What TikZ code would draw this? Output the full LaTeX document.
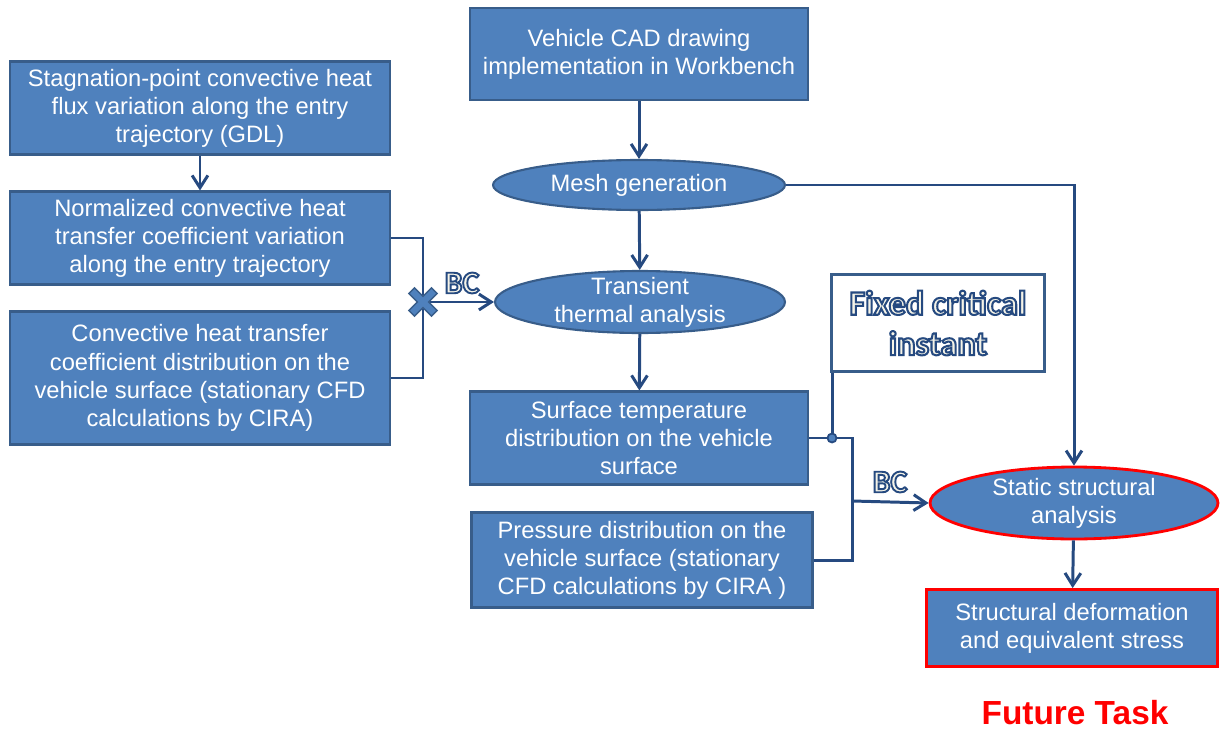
\documentclass[tikz,border=0pt]{standalone}
\usepackage{fontspec}
\setmainfont{Liberation Sans}
\newfontfamily\bcfont{Carlito}[BoldFeatures={FakeBold=6}]
\usetikzlibrary{shapes.geometric,arrows.meta}

\definecolor{boxfill}{RGB}{79,129,189}
\definecolor{boxedge}{RGB}{56,93,138}
\definecolor{linec}{RGB}{38,74,128}

% cream letters with a dark blue outline
\newcommand{\outl}[1]{\special{pdf:bcolor [0.965 0.957 0.91] [0.149 0.29 0.502]}#1\special{pdf:ecolor}}

\begin{document}
\begin{tikzpicture}[x=0.02cm,y=-0.02cm,
  body/.style={font=\fontsize{13.5}{16}\selectfont,text=white,align=center},
  rbox/.style={body,draw=boxedge,fill=boxfill,line width=1.2pt,inner sep=0pt},
  oval/.style={ellipse,draw=boxedge,fill=boxfill,line width=1.2pt,inner sep=0pt},
  future/.style={draw=red,line width=1.6pt},
  link/.style={draw=linec,line width=1.7pt},
  arr/.style={link,-{Straight Barb[length=7pt,width=9pt,line width=1.7pt]}},
  tag/.style={inner sep=0pt,font=\bcfont\bfseries\fontsize{18}{20}\selectfont}]
\useasboundingbox (0,0) rectangle (1220,730);

% left column
\node[rbox,minimum width=7.6cm,minimum height=1.86cm] (stag) at (200,108)
  {Stagnation-point convective heat\\flux variation along the entry\\trajectory (GDL)};
\node[rbox,minimum width=7.6cm,minimum height=1.86cm] (norm) at (200,238)
  {Normalized convective heat\\transfer coefficient variation\\along the entry trajectory};
\node[rbox,minimum width=7.6cm,minimum height=2.66cm] (conv) at (200,378)
  {Convective heat transfer\\coefficient distribution on the\\vehicle surface (stationary CFD\\calculations by CIRA)};

% middle column
\node[rbox,minimum width=6.76cm,minimum height=1.84cm] (cad) at (639,54)
  {Vehicle CAD drawing\\implementation in Workbench};
\node[oval,minimum width=5.84cm,minimum height=1.0cm,
  label={[body]center:Mesh generation}] (mesh) at (639,185) {};
\node[oval,minimum width=5.8cm,minimum height=1.24cm,
  label={[body]center:{Transient\\thermal analysis}}] (trans) at (640,302) {};
\node[rbox,minimum width=6.76cm,minimum height=1.86cm] (surf) at (639,438)
  {Surface temperature\\distribution on the vehicle\\surface};
\node[rbox,minimum width=6.82cm,minimum height=1.9cm] (pres) at (642,560)
  {Pressure distribution on the\\vehicle surface (stationary\\CFD calculations by CIRA )};

% right column
\node[draw=boxedge,fill=white,line width=1.7pt,minimum width=4.26cm,minimum height=1.94cm,
  align=center,font=\bcfont\bfseries\fontsize{19.5}{23}\selectfont] (fixed) at (938,323)
  {\outl{Fixed critical}\\\outl{instant}};
\node[oval,future,minimum width=5.76cm,minimum height=1.44cm,
  label={[body]center:{Static structural\\analysis}}] (stat) at (1074,503) {};
\node[rbox,future,minimum width=5.82cm,minimum height=1.54cm] (defo) at (1072,628)
  {Structural deformation\\and equivalent stress};
\node[inner sep=0pt,text=red,font=\fontsize{19}{22}\selectfont\bfseries] (task) at (1075,713) {Future Task};

% junctions
\coordinate (jn) at (423,302);
\coordinate (dot) at (832,438);
\coordinate (sj) at (852,438);
\coordinate (bj) at (852,501);

% connectors
\draw[arr] (cad) -- (mesh);
\draw[arr] (mesh) -- (trans);
\draw[arr] (trans) -- (surf);
\draw[arr] (stag) -- (norm);
\draw[arr] (mesh.east) -| (stat.north);
\draw[arr] (stat) -- (defo);
\draw[link] (norm.east) -| (jn) |- (conv.east);
\draw[arr] (jn) -- (trans.west);
\draw[link] (surf.east) -- (sj) |- (pres.east);
\draw[link] (dot) -- (dot |- fixed.south);
\draw[arr] (bj) -- (stat.west);

% marks
\begin{scope}[shift={(jn)},rotate=45]
\filldraw[fill=boxfill,draw=boxedge,line width=0.8pt]
  (-4,-16) -- (4,-16) -- (4,-4) -- (16,-4) -- (16,4) -- (4,4) -- (4,16)
  -- (-4,16) -- (-4,4) -- (-16,4) -- (-16,-4) -- (-4,-4) -- cycle;
\end{scope}
\node[circle,fill=boxfill,draw=linec,line width=1pt,minimum size=0.18cm,inner sep=0pt]
  (dotmark) at (dot) {};

\node[tag] (bc1) at (462,283) {\outl{BC}};
\node[tag] (bc2) at (890,482) {\outl{BC}};
\end{tikzpicture}
\end{document}
